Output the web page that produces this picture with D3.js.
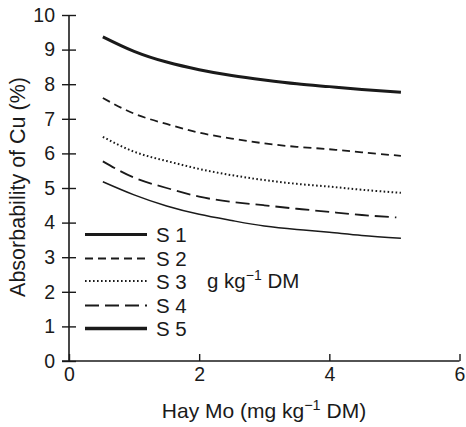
<!DOCTYPE html>
<html><head><meta charset="utf-8">
<script src="https://cdn.jsdelivr.net/npm/d3@7"></script>
<style>body{margin:0;background:#fff}svg{display:block}text{font-family:"Liberation Sans",Arial,Helvetica,sans-serif;fill:#1a1a1a}</style>
</head><body>
<script>
const xs = [0.52, 1, 1.5, 2, 2.5, 3, 3.5, 4, 4.5, 5.1];
const s1 = [9.37, 8.95, 8.64, 8.42, 8.25, 8.12, 8.01, 7.93, 7.85, 7.77];
const s2 = [7.60, 7.15, 6.85, 6.60, 6.43, 6.29, 6.19, 6.12, 6.03, 5.93];
const s3 = [6.48, 6.05, 5.78, 5.55, 5.37, 5.23, 5.12, 5.04, 4.95, 4.86];
const s4 = [5.77, 5.30, 5.00, 4.75, 4.60, 4.50, 4.40, 4.31, 4.22, 4.15];
const s4x = [0.52, 1, 1.5, 2, 2.5, 3, 3.5, 4, 4.5, 5.03];
const s5 = [5.18, 4.80, 4.48, 4.24, 4.06, 3.90, 3.80, 3.72, 3.63, 3.55];
const seriesNames = ["S 1", "S 2", "S 3", "S 4", "S 5"];
const xTicks = [0, 2, 4, 6];
const yTicks = [0,1,2,3,4,5,6,7,8,9,10];

const W = 466, H = 427;
const svg = d3.select("body").append("svg").attr("width", W).attr("height", H);
const x = d3.scaleLinear().domain([0, 6]).range([69, 459.5]);
const y = d3.scaleLinear().domain([0, 10]).range([361, 15]);
const ink = "#1a1a1a";

const styles = [
  {w: 3, dash: null},
  {w: 1.8, dash: "8,5"},
  {w: 2, dash: "1.6,2.4"},
  {w: 1.8, dash: "14,6"},
  {w: 1.5, dash: null}
];
const legendStyles = [
  {w: 3, dash: null},
  {w: 1.8, dash: "8,5"},
  {w: 2, dash: "1.6,2.4"},
  {w: 1.8, dash: "14,6"},
  {w: 3.5, dash: null}
];
const data = [
  {xv: xs, yv: s1}, {xv: xs, yv: s2}, {xv: xs, yv: s3}, {xv: s4x, yv: s4}, {xv: xs, yv: s5}
];

// axes
const yAxis = svg.append("g").attr("transform", `translate(${x(0)},0)`)
  .call(d3.axisLeft(y).tickValues(yTicks).tickSize(7).tickPadding(6).tickFormat(d3.format("d")));
yAxis.select(".domain").remove();
yAxis.selectAll(".tick line").attr("x1", -7).attr("x2", 7).attr("stroke", ink).attr("stroke-width", 1.4);
yAxis.selectAll(".tick text").attr("font-size", 19.5).attr("fill", ink).attr("x", -14);
svg.append("line").attr("x1", x(0)).attr("x2", x(0)).attr("y1", y(10)).attr("y2", y(0))
  .attr("stroke", ink).attr("stroke-width", 1.6);

const xAxis = svg.append("g").attr("transform", `translate(0,${y(0)})`)
  .call(d3.axisBottom(x).tickValues(xTicks).tickSize(0).tickPadding(8).tickFormat(d3.format("d")));
xAxis.select(".domain").remove();
xAxis.selectAll(".tick line").attr("y1", -7).attr("y2", 0).attr("stroke", ink).attr("stroke-width", 1.4);
xAxis.selectAll(".tick text").attr("font-size", 19.5).attr("fill", ink).attr("dy", "0.71em").attr("y", 6);
svg.append("line").attr("x1", x(0) - 7).attr("x2", x(6)).attr("y1", y(0)).attr("y2", y(0))
  .attr("stroke", ink).attr("stroke-width", 1.6);

// curves
const line = d3.line().curve(d3.curveNatural);
data.forEach((s, k) => {
  const pts = s.yv.map((v, i) => [x(s.xv[i]), y(v)]);
  svg.append("path").attr("d", line(pts)).attr("fill", "none").attr("stroke", ink)
    .attr("stroke-width", styles[k].w).attr("stroke-dasharray", styles[k].dash);
});

// legend
const ly = [234.5, 258.5, 281, 305.5, 328.5];
seriesNames.forEach((n, k) => {
  svg.append("line").attr("x1", 85).attr("x2", 147).attr("y1", ly[k]).attr("y2", ly[k])
    .attr("stroke", ink).attr("stroke-width", legendStyles[k].w).attr("stroke-dasharray", legendStyles[k].dash);
  svg.append("text").attr("x", 156).attr("y", ly[k] + 7.5).attr("font-size", 20.5).text(n);
});
const unit = svg.append("text").attr("x", 207).attr("y", 288).attr("font-size", 20.5);
unit.append("tspan").text("g kg");
unit.append("tspan").attr("font-size", 14).attr("dy", -8).text("\u22121");
unit.append("tspan").attr("dy", 8).text(" DM");

// titles
const xt = svg.append("text").attr("x", 264).attr("y", 418).attr("text-anchor", "middle").attr("font-size", 21);
xt.append("tspan").text("Hay Mo (mg kg");
xt.append("tspan").attr("font-size", 14.5).attr("dy", -8).text("\u22121");
xt.append("tspan").attr("dy", 8).text(" DM)");

svg.append("text").attr("transform", "translate(25,187) rotate(-90)").attr("text-anchor", "middle")
  .attr("font-size", 21.5).text("Absorbability of Cu (%)");
</script>
</body></html>
